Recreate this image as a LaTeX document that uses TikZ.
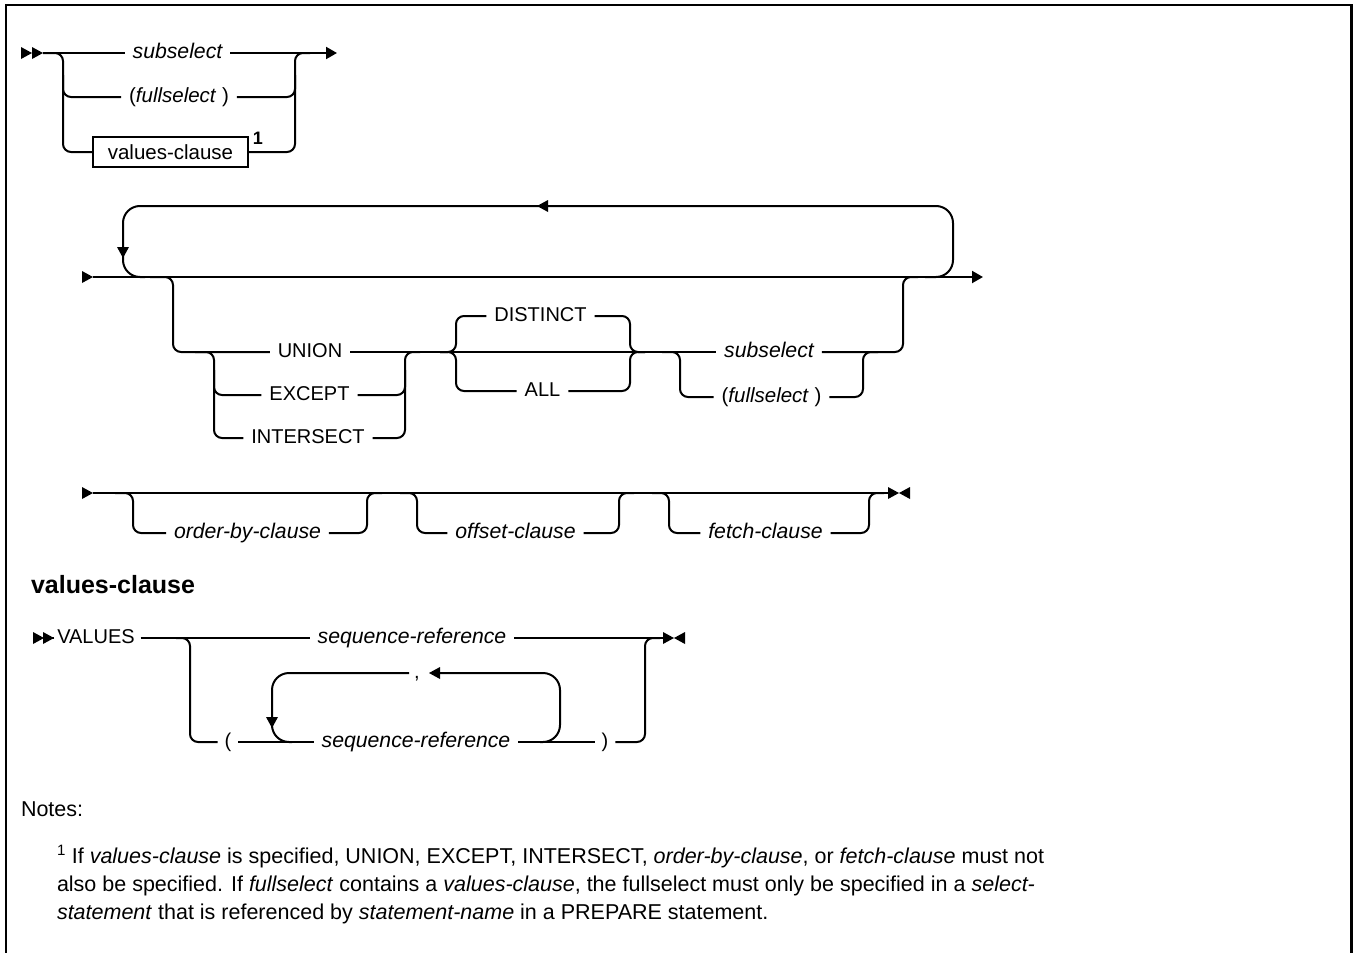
\documentclass[tikz,border=0pt]{standalone}
\usepackage{fontspec}
\setmainfont{Liberation Sans}
\usetikzlibrary{arrows.meta}
\begin{document}
\begin{tikzpicture}[x=1pt,y=-1pt,line width=2pt,
  br/.style={rounded corners=8pt},
  lp/.style={rounded corners=17pt},
  lbl/.style={inner ysep=0pt,inner xsep=7pt,text height=14pt,text depth=4pt,font=\fontsize{20}{24}\selectfont},
  ilbl/.style={lbl,font=\fontsize{21.2}{25}\selectfont\itshape},
  vbox/.style={draw,line width=1.6pt,minimum width=155pt,minimum height=30pt,inner sep=0pt,font=\fontsize{20.5}{24}\selectfont},
  endarr/.style={-{Triangle[length=11pt,width=12pt]}},
  rtri/.pic={\fill (-11,-6) -- (0,0) -- (-11,6) -- cycle;},
  ltri/.pic={\fill (11,-6) -- (0,0) -- (11,6) -- cycle;},
  dtri/.pic={\fill (-6,-11) -- (0,0) -- (6,-11) -- cycle;},
  note/.style={anchor=base west,inner sep=0pt,font=\fontsize{21.5}{26}\selectfont},
]
\useasboundingbox (0,0) rectangle (1353,953);
\draw[line width=2.6pt] (6,953) -- (6,5) -- (1351.5,5) -- (1351.5,953);

% ---------- diagram 1
\coordinate (A1s) at (43,53);
\coordinate (A1l) at (63,152);
\coordinate (A1r) at (295,53);
\coordinate (A1e) at (337,53);
\node[ilbl] (sub1) at (177.5,53) {subselect};
\node[lbl,font=\fontsize{20.5}{24}\selectfont] (fs1) at (179,97) {(\textit{fullselect}\ )};
\node[vbox] (vc1) at (170.5,152) {values-clause};
\node[inner sep=0pt,font=\fontsize{18}{20}\selectfont\bfseries] (n1) at (258,138) {1};
\pic at (32,53) {rtri}; \pic at (A1s) {rtri};
\draw (A1s) -- (sub1.west);
\draw[endarr] (sub1.east) -- (A1e);
\draw[br] (A1s) -| (A1l) -- (vc1.west);
\draw[br] (63,75) |- (fs1.west);
\draw[br] (vc1.east) -| (A1r) -- ++(15,0);
\draw[br] (fs1.east) -| (295,75);

% ---------- diagram 2
\coordinate (B0) at (93,277);
\coordinate (B1) at (983,277);
\pic at (B0) {rtri};
\draw[endarr] (B0) -- (B1);
\draw[lp] (925,277) -| (953,206) -| (123,277) -- (145,277);
\pic at (123,258) {dtri};
\pic at (537,206) {ltri};
\node[lbl] (un) at (310,352) {UNION};
\node[lbl] (ex) at (309.5,395) {EXCEPT};
\node[lbl] (is) at (308,438) {INTERSECT};
\node[lbl] (di) at (540.5,316) {DISTINCT};
\node[lbl] (al) at (542.5,391) {ALL};
\node[ilbl] (sub2) at (769,352) {subselect};
\node[lbl,font=\fontsize{20.5}{24}\selectfont] (fs2) at (771.5,397) {(\textit{fullselect}\ )};
\draw[br] (150,277) -| (173,352) -- (un.west);
\draw[br] (195,352) -| (214,438) -- (is.west);
\draw[br] (214,370) |- (ex.west);
\draw[br] (is.east) -| (405,352) -- ++(15,0);
\draw[br] (ex.east) -| (405,370);
\draw (un.east) -- (sub2.west);
\draw[br] (440,352) -| (456,316) -- (di.west);
\draw[br] (440,352) -| (456,391) -- (al.west);
\draw[br] (di.east) -| (630,352) -- ++(15,0);
\draw[br] (al.east) -| (630,352) -- ++(15,0);
\draw[br] (662,352) -| (680,397) -- (fs2.west);
\draw[br] (fs2.east) -| (863,352) -- ++(15,0);
\draw[br] (sub2.east) -| (903,277) -- ++(15,0);

% ---------- diagram 3
\coordinate (C0) at (93,493);
\coordinate (C1) at (889,493);
\pic at (C0) {rtri};
\draw (C0) -- (C1);
\pic at (899,493) {rtri}; \pic at (899,493) {ltri};
\node[ilbl] (ob) at (247.5,533) {order-by-clause};
\node[ilbl] (os) at (515.5,533) {offset-clause};
\node[ilbl] (fc) at (765.5,533) {fetch-clause};
\draw[br] (115,493) -| (133,533) -- (ob.west);
\draw[br] (ob.east) -| (367,493) -- ++(15,0);
\draw[br] (400,493) -| (417,533) -- (os.west);
\draw[br] (os.east) -| (619,493) -- ++(15,0);
\draw[br] (652,493) -| (669,533) -- (fc.west);
\draw[br] (fc.east) -| (869,493) -- ++(15,0);

% ---------- values-clause
\node[anchor=base west,inner sep=0pt,font=\fontsize{25}{30}\selectfont\bfseries] (vh) at (30,593) {values-clause};
\coordinate (V0) at (54,638);
\coordinate (V1) at (663,638);
\pic at (44,638) {rtri}; \pic at (V0) {rtri};
\node[lbl,inner xsep=5pt] (val) at (96,638) {VALUES};
\node[ilbl] (sq1) at (412,638) {sequence-reference};
\node[lbl,inner xsep=6pt] (lpar) at (228,742) {(};
\node[ilbl] (sq2) at (416,742) {sequence-reference};
\node[lbl,inner xsep=6pt] (rpar) at (605,742) {)};
\node[lbl,inner xsep=4pt] (cm) at (417,673) {,};
\draw (V0) -- (val.west);
\draw (val.east) -- (sq1.west);
\draw (sq1.east) -- (V1);
\pic at (674,638) {rtri}; \pic at (674,638) {ltri};
\draw[br] (176,638) -| (190,742) -- (lpar.west);
\draw (lpar.east) -- (sq2.west);
\draw (sq2.east) -- (rpar.west);
\draw[br] (rpar.east) -| (645,638) -- ++(15,0);
\draw[lp] (540,742) -| (560,673) -- (440,673);
\pic at (429,673) {ltri};
\draw[lp] (cm.west) -| (272,742) -- (292,742);
\pic at (272,728) {dtri};

% ---------- notes
\node[note] (nh) at (20,816) {Notes:};
\node[note] (nl1) at (56,863) {\textsuperscript{1} If \textit{values-clause} is specified, UNION, EXCEPT, INTERSECT, \textit{order-by-clause}, or \textit{fetch-clause} must not};
\node[note] (nl2) at (56,891) {also be specified. If \textit{fullselect} contains a \textit{values-clause}, the fullselect must only be specified in a \textit{select-}};
\node[note] (nl3) at (56,919) {\textit{statement} that is referenced by \textit{statement-name} in a PREPARE statement.};
\end{tikzpicture}
\end{document}
